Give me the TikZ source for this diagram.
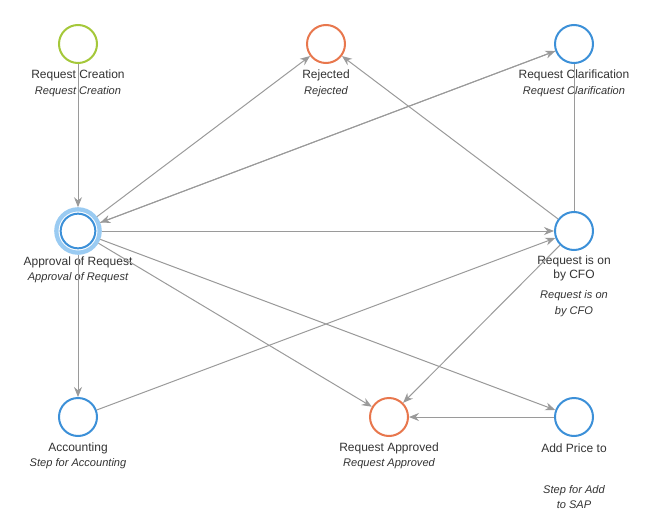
\documentclass[tikz,border=0pt]{standalone}
\usepackage{fontspec}
\setmainfont{Liberation Sans}
\usetikzlibrary{arrows.meta}
\definecolor{cgreen}{HTML}{A5C83A}
\definecolor{corange}{HTML}{E8774D}
\definecolor{cblue}{HTML}{3C90D8}
\definecolor{chalo}{HTML}{9ACBF2}
\definecolor{cedge}{HTML}{9A9A9A}
\definecolor{ctext}{HTML}{333333}
\tikzset{
  state/.style={circle, draw=#1, line width=1.5pt, minimum size=28.5pt, inner sep=0pt, fill=white},
  title/.style={text=ctext, font=\fontsize{9}{10.5}\selectfont, align=center, inner sep=0pt},
  sub/.style={text=ctext, font=\fontsize{8.3}{11.5}\selectfont\itshape, align=center, inner sep=0pt},
  edge/.style={draw=cedge, line width=0.75pt, -{Stealth[length=7.5pt, width=6pt]}},
  plain/.style={draw=cedge, line width=0.75pt},
}
\begin{document}
\begin{tikzpicture}[x=0.75pt, y=-0.75pt]
\useasboundingbox (0,0) rectangle (650,514);
\coordinate (c1) at (78,44);
\coordinate (c2) at (326,44);
\coordinate (c3) at (574,44);
\coordinate (c4) at (78,231);
\coordinate (c5) at (574,231);
\coordinate (c6) at (78,417);
\coordinate (c7) at (389,417);
\coordinate (c8) at (574,417);

\node[state=cgreen] (rc) at (c1) {};
\node[state=corange] (rej) at (c2) {};
\node[state=cblue] (clar) at (c3) {};
\node[circle, draw=chalo, line width=3.2pt, minimum size=32.5pt, inner sep=0pt, fill=white] (appr) at (c4) {};
\node[circle, draw=cblue, line width=1.5pt, minimum size=26pt, inner sep=0pt] (apprin) at (c4) {};
\node[state=cblue] (cfo) at (c5) {};
\node[state=cblue] (acc) at (c6) {};
\node[state=corange] (ra) at (c7) {};
\node[state=cblue] (add) at (c8) {};

% labels
\node[title] (l1) at (78,75) {Request Creation};
\node[sub] (s1) at (78,92) {Request Creation};
\node[title] (l2) at (326,75) {Rejected};
\node[sub] (s2) at (326,92) {Rejected};
\node[title] (l3) at (574,75) {Request Clarification};
\node[sub] (s3) at (574,92) {Request Clarification};
\node[title] (l4) at (78,262) {Approval of Request};
\node[sub] (s4) at (78,278) {Approval of Request};
\node[title] (l5) at (574,268) {Request is on\\by CFO};
\node[sub] (s5) at (574,303.5) {Request is on\\by CFO};
\node[title] (l6) at (78,448) {Accounting};
\node[sub] (s6) at (78,464) {Step for Accounting};
\node[title] (l7) at (389,448) {Request Approved};
\node[sub] (s7) at (389,464) {Request Approved};
\node[title] (l8) at (574,448) {Add Price to};
\node[sub] (s8) at (574,497) {Step for Add\\to SAP};

\draw[edge] (rc) -- (appr);
\draw[edge] (appr) -- (rej);
\draw[edge] (cfo) -- (rej);
\draw[edge] (appr) -- (clar);
\draw[edge] (clar) -- (appr);
\draw[edge] (appr) -- (cfo);
\draw[plain] (clar) -- (cfo);
\draw[edge] (acc) -- (cfo);
\draw[edge] (appr) -- (acc);
\draw[edge] (appr) -- (ra);
\draw[edge] (appr) -- (add);
\draw[edge] (cfo) -- (ra);
\draw[edge] (add) -- (ra);
\end{tikzpicture}
\end{document}
